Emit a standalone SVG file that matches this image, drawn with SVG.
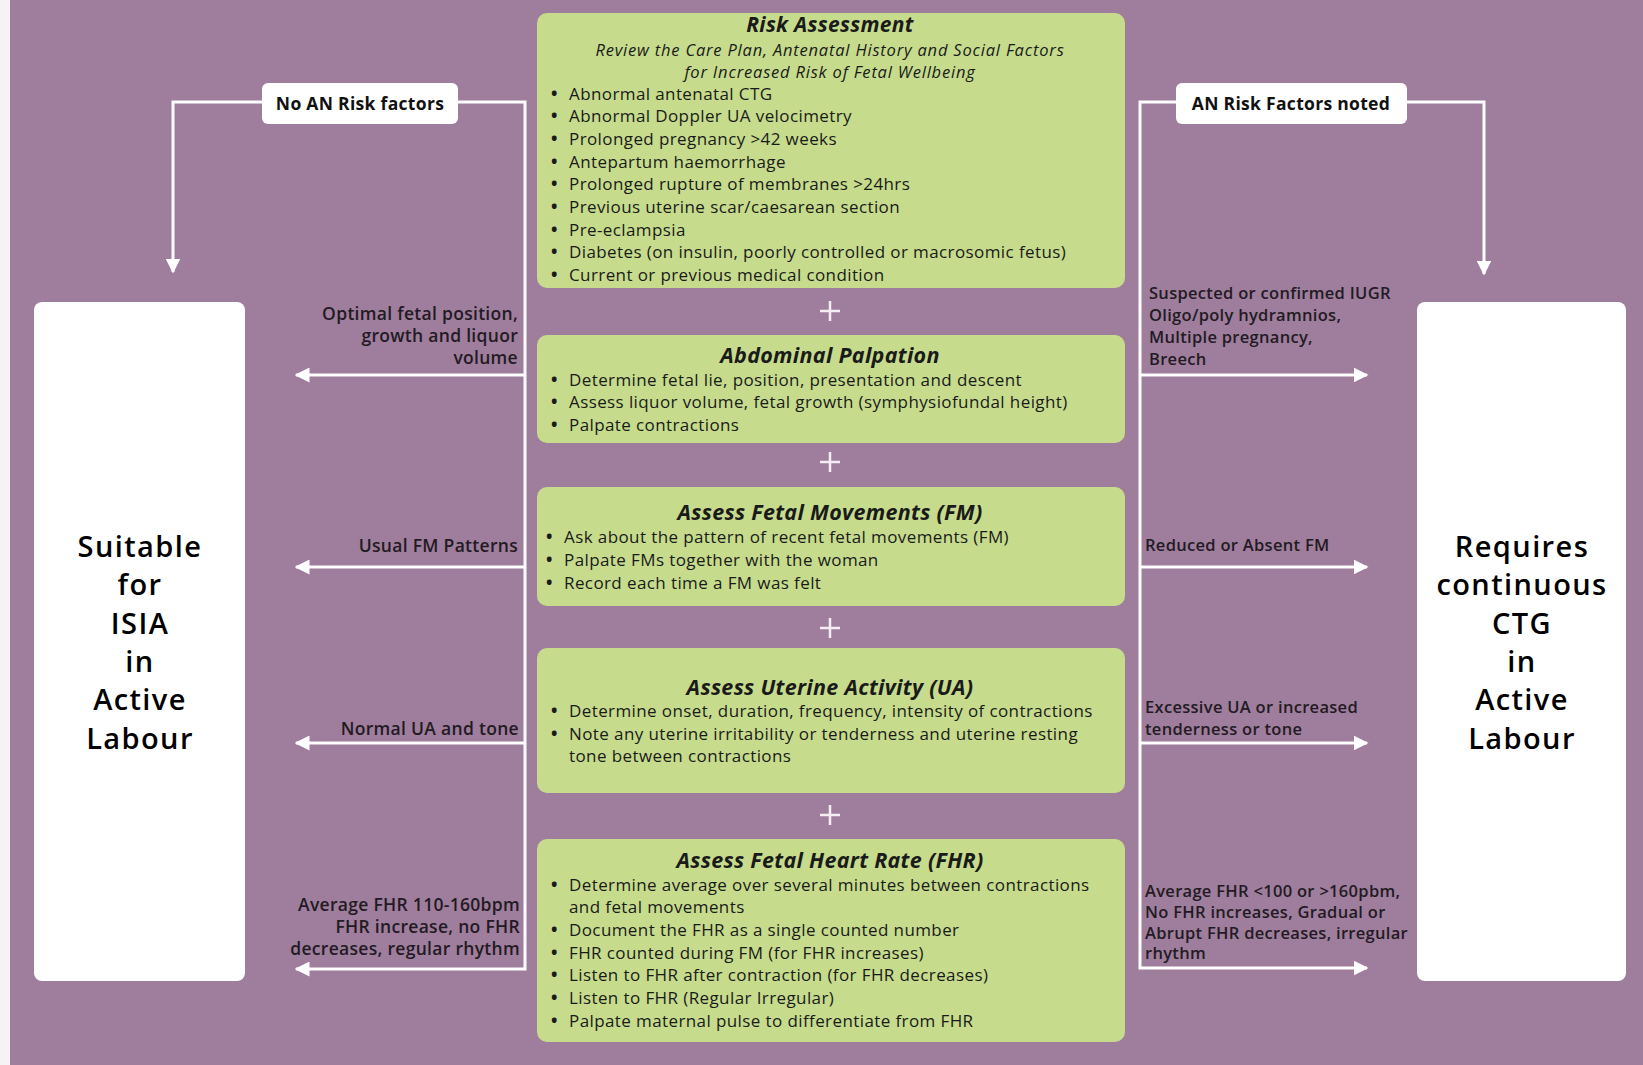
<svg xmlns="http://www.w3.org/2000/svg" width="1643" height="1065" viewBox="0 0 1643 1065">
<defs>
<marker id="ah" viewBox="0 0 10 10" refX="9" refY="5" markerWidth="15" markerHeight="15" markerUnits="userSpaceOnUse" orient="auto"><path d="M0,0 L10,5 L0,10 z" fill="#ffffff"/></marker>
<style>
.bg{fill:#9e7e9c}
.box{fill:#c6dc8c}
.wbox{fill:#ffffff}
.conn{fill:none;stroke:#ffffff;stroke-width:3}
.plus{stroke:#f4eef4;stroke-width:2.5}
.title{font-family:"Open Sans","Noto Sans",sans-serif;font-weight:700;font-style:italic;font-size:21.5px;letter-spacing:0.3px;fill:#1a1a1a;text-anchor:middle}
.t1{font-size:21px}
.sub{font-family:"Open Sans","Noto Sans",sans-serif;font-style:italic;font-size:16.5px;letter-spacing:0.8px;fill:#1a1a1a;text-anchor:middle}
.item{font-family:"Open Sans","Noto Sans",sans-serif;font-size:17px;letter-spacing:0.4px;fill:#1a1a1a}
.b{font-weight:700}
.lab{font-family:"Open Sans","Noto Sans",sans-serif;font-weight:600;font-size:17.5px;letter-spacing:0.3px;fill:#231a23}
.labs{font-family:"Open Sans","Noto Sans",sans-serif;font-weight:600;font-size:16.5px;letter-spacing:0.3px;fill:#231a23}
.tag{font-family:"Open Sans","Noto Sans",sans-serif;font-weight:700;font-size:17.5px;letter-spacing:0.3px;fill:#111;text-anchor:middle}
.big{font-family:"Open Sans","Noto Sans",sans-serif;font-weight:600;font-size:29px;letter-spacing:1.4px;fill:#000;text-anchor:middle}
.r{text-anchor:end}
</style>
</defs>
<rect x="0" y="0" width="1643" height="1065" fill="#f6f2f6"/>
<rect class="bg" x="10" y="0" width="1633" height="1065"/>

<g id="connectors">
<path class="conn" d="M262,102 H173 V272" marker-end="url(#ah)"/>
<path class="conn" d="M458,102 H525 V969 H296" marker-end="url(#ah)"/>
<path class="conn" d="M525,375 H296" marker-end="url(#ah)"/>
<path class="conn" d="M525,567 H296" marker-end="url(#ah)"/>
<path class="conn" d="M525,743 H296" marker-end="url(#ah)"/>
<path class="conn" d="M1176,102 H1140 V968 H1367" marker-end="url(#ah)"/>
<path class="conn" d="M1407,102 H1484 V274" marker-end="url(#ah)"/>
<path class="conn" d="M1140,375 H1367" marker-end="url(#ah)"/>
<path class="conn" d="M1140,567 H1367" marker-end="url(#ah)"/>
<path class="conn" d="M1140,743 H1367" marker-end="url(#ah)"/>
</g>

<g id="plus-signs">
<path class="plus" d="M820,311 H840 M830,301 V321"/>
<path class="plus" d="M820,462 H840 M830,452 V472"/>
<path class="plus" d="M820,628 H840 M830,618 V638"/>
<path class="plus" d="M820,815 H840 M830,805 V825"/>
</g>

<g id="no-risk">
<rect class="wbox" x="262" y="83" width="196" height="41" rx="6"/>
<text class="tag" x="360" y="110">No AN Risk factors</text>
</g>

<g id="risk-noted">
<rect class="wbox" x="1176" y="83" width="231" height="41" rx="6"/>
<text class="tag" x="1291" y="110">AN Risk Factors noted</text>
</g>

<g id="risk-assessment">
<rect class="box" x="537" y="13" width="588" height="275" rx="10"/>
<text class="title t1" x="830" y="32">Risk Assessment</text>
<text class="sub" x="830" y="56">Review the Care Plan, Antenatal History and Social Factors</text>
<text class="sub" x="830" y="78">for Increased Risk of Fetal Wellbeing</text>
<text class="item b" x="551" y="100">•</text><text class="item" x="569" y="100">Abnormal antenatal CTG</text>
<text class="item b" x="551" y="122">•</text><text class="item" x="569" y="122">Abnormal Doppler UA velocimetry</text>
<text class="item b" x="551" y="145">•</text><text class="item" x="569" y="145">Prolonged pregnancy &gt;42 weeks</text>
<text class="item b" x="551" y="168">•</text><text class="item" x="569" y="168">Antepartum haemorrhage</text>
<text class="item b" x="551" y="190">•</text><text class="item" x="569" y="190">Prolonged rupture of membranes &gt;24hrs</text>
<text class="item b" x="551" y="213">•</text><text class="item" x="569" y="213">Previous uterine scar/caesarean section</text>
<text class="item b" x="551" y="236">•</text><text class="item" x="569" y="236">Pre-eclampsia</text>
<text class="item b" x="551" y="258">•</text><text class="item" x="569" y="258">Diabetes (on insulin, poorly controlled or macrosomic fetus)</text>
<text class="item b" x="551" y="281">•</text><text class="item" x="569" y="281">Current or previous medical condition</text>
</g>

<g id="abdominal-palpation">
<rect class="box" x="537" y="335" width="588" height="108" rx="10"/>
<text class="title" x="830" y="363">Abdominal Palpation</text>
<text class="item b" x="551" y="386">•</text><text class="item" x="569" y="386">Determine fetal lie, position, presentation and descent</text>
<text class="item b" x="551" y="408">•</text><text class="item" x="569" y="408">Assess liquor volume, fetal growth (symphysiofundal height)</text>
<text class="item b" x="551" y="431">•</text><text class="item" x="569" y="431">Palpate contractions</text>
</g>

<g id="fetal-movements">
<rect class="box" x="537" y="487" width="588" height="119" rx="10"/>
<text class="title" x="830" y="520">Assess Fetal Movements (FM)</text>
<text class="item b" x="546" y="543">•</text><text class="item" x="564" y="543">Ask about the pattern of recent fetal movements (FM)</text>
<text class="item b" x="546" y="566">•</text><text class="item" x="564" y="566">Palpate FMs together with the woman</text>
<text class="item b" x="546" y="589">•</text><text class="item" x="564" y="589">Record each time a FM was felt</text>
</g>

<g id="uterine-activity">
<rect class="box" x="537" y="648" width="588" height="145" rx="10"/>
<text class="title" x="830" y="695">Assess Uterine Activity (UA)</text>
<text class="item b" x="551" y="717">•</text><text class="item" x="569" y="717">Determine onset, duration, frequency, intensity of contractions</text>
<text class="item b" x="551" y="740">•</text><text class="item" x="569" y="740">Note any uterine irritability or tenderness and uterine resting</text>
<text class="item" x="569" y="762">tone between contractions</text>
</g>

<g id="fetal-heart-rate">
<rect class="box" x="537" y="839" width="588" height="203" rx="10"/>
<text class="title" x="830" y="868">Assess Fetal Heart Rate (FHR)</text>
<text class="item b" x="551" y="891">•</text><text class="item" x="569" y="891">Determine average over several minutes between contractions</text>
<text class="item" x="569" y="913">and fetal movements</text>
<text class="item b" x="551" y="936">•</text><text class="item" x="569" y="936">Document the FHR as a single counted number</text>
<text class="item b" x="551" y="959">•</text><text class="item" x="569" y="959">FHR counted during FM (for FHR increases)</text>
<text class="item b" x="551" y="981">•</text><text class="item" x="569" y="981">Listen to FHR after contraction (for FHR decreases)</text>
<text class="item b" x="551" y="1004">•</text><text class="item" x="569" y="1004">Listen to FHR (Regular Irregular)</text>
<text class="item b" x="551" y="1027">•</text><text class="item" x="569" y="1027">Palpate maternal pulse to differentiate from FHR</text>
</g>

<g id="suitable-isia">
<rect class="wbox" x="34" y="302" width="211" height="679" rx="8"/>
<text class="big" x="140" y="557">Suitable</text>
<text class="big" x="140" y="595">for</text>
<text class="big" x="140" y="634">ISIA</text>
<text class="big" x="140" y="672">in</text>
<text class="big" x="140" y="710">Active</text>
<text class="big" x="140" y="749">Labour</text>
</g>

<g id="requires-ctg">
<rect class="wbox" x="1417" y="302" width="209" height="679" rx="8"/>
<text class="big" x="1522" y="557">Requires</text>
<text class="big" x="1522" y="595">continuous</text>
<text class="big" x="1522" y="634">CTG</text>
<text class="big" x="1522" y="672">in</text>
<text class="big" x="1522" y="710">Active</text>
<text class="big" x="1522" y="749">Labour</text>
</g>

<g id="left-labels">
<text class="lab r" x="518" y="320">Optimal fetal position,</text>
<text class="lab r" x="518" y="342">growth and liquor</text>
<text class="lab r" x="518" y="364">volume</text>
<text class="lab r" x="518" y="552">Usual FM Patterns</text>
<text class="lab r" x="519" y="735">Normal UA and tone</text>
<text class="lab r" x="520" y="911">Average FHR 110-160bpm</text>
<text class="lab r" x="520" y="933">FHR increase, no FHR</text>
<text class="lab r" x="520" y="955">decreases, regular rhythm</text>
</g>

<g id="right-labels">
<text class="labs" x="1149" y="299">Suspected or confirmed IUGR</text>
<text class="labs" x="1149" y="321">Oligo/poly hydramnios,</text>
<text class="labs" x="1149" y="343">Multiple pregnancy,</text>
<text class="labs" x="1149" y="365">Breech</text>
<text class="labs" x="1145" y="551">Reduced or Absent FM</text>
<text class="labs" x="1145" y="713">Excessive UA or increased</text>
<text class="labs" x="1145" y="735">tenderness or tone</text>
<text class="labs" x="1145" y="897">Average FHR &lt;100 or &gt;160pbm,</text>
<text class="labs" x="1145" y="918">No FHR increases, Gradual or</text>
<text class="labs" x="1145" y="939">Abrupt FHR decreases, irregular</text>
<text class="labs" x="1145" y="959">rhythm</text>
</g>
</svg>
